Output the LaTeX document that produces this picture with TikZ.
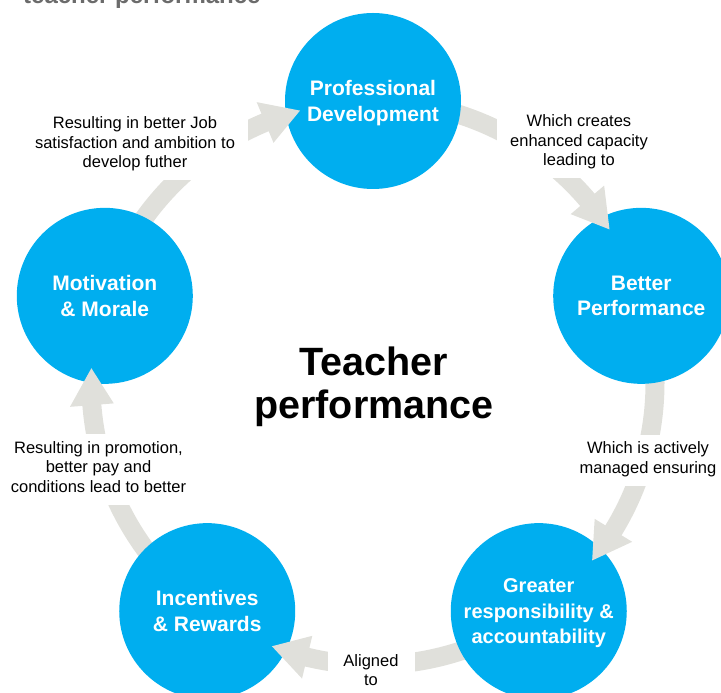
\documentclass[tikz,border=0pt]{standalone}
\usepackage{fontspec}
\setmainfont{Liberation Sans}
\usetikzlibrary{calc}
\definecolor{cblue}{HTML}{00AEEF}
\definecolor{agrey}{HTML}{E0E0DB}
\definecolor{tgrey}{HTML}{6B6B6B}
\begin{document}
\begin{tikzpicture}[x=1pt,y=1pt,
  circ/.style={circle, fill=cblue, minimum size=176pt, inner sep=0pt, text=white,
    align=center, text depth=0pt, font=\fontsize{21}{25.5}\selectfont\bfseries},
  shaft/.style={draw=agrey, line width=19pt},
  headfill/.style={fill=agrey},
  lbl/.style={fill=white, align=center, inner xsep=13pt, inner ysep=7pt,
    font=\fontsize{16.5}{19.5}\selectfont,
    execute at begin node=\strut, execute at end node=\strut},
  ttl/.style={align=center, inner sep=0pt, font=\fontsize{39.5}{43}\selectfont\bfseries},
]
\useasboundingbox (0,0) rectangle (721,693);
\coordinate (C) at (373,310);

% top cut-off heading
\node[anchor=base west, inner sep=0pt, text=tgrey,
  font=\fontsize{24}{28}\selectfont\bfseries] (head) at (23,689.5) {teacher performance};

% arrow shafts (under the circles at their start)
\foreach \s/\t [evaluate=\t as \e using \t+7] in {162/105, 90/33, 18/-39, -54/-111, -126/-183}
  \draw[shaft] ([shift={(\s:282pt)}]C) arc[start angle=\s, end angle=\e, radius=282pt];

% circles
\node[circ] (pd) at ([shift={(90:282pt)}]C) {Professional\\Development};
\node[circ] (bp) at ([shift={(18:282pt)}]C) {Better\\Performance};
\node[circ, font=\fontsize{20}{25.5}\selectfont\bfseries] (gr) at ([shift={(-54:282pt)}]C) {Greater\\responsibility \&\\accountability};
\node[circ] (ir) at ([shift={(-126:282pt)}]C) {Incentives\\\& Rewards};
\node[circ] (mm) at ([shift={(162:282pt)}]C) {Motivation\\\& Morale};

% arrow heads (over the circles)
\foreach \t [evaluate=\t as \b using \t+7.5] in {105, 33, -39, -111, -183}
  \fill[headfill] ([shift={(\t:282pt)}]C) -- ([shift={(\b:304pt)}]C) -- ([shift={(\b:260pt)}]C) -- cycle;

% labels on the arrows
\node[lbl] (l1) at (135,548) {Resulting in better Job\\satisfaction and ambition to\\develop futher};
\node[lbl] (l2) at (579,550) {Which creates\\enhanced capacity\\leading to};
\node[lbl] (l3) at (648,232.4) {Which is actively\\managed ensuring};
\node[lbl, minimum width=87pt, inner xsep=0pt] (l4) at (371,19.9) {Aligned\\to};
\node[lbl] (l5) at (98.5,223.4) {Resulting in promotion,\\better pay and\\conditions lead to better};

% central title
\node[ttl] (title) at (374,306.7) {Teacher\\performance};
\end{tikzpicture}
\end{document}
